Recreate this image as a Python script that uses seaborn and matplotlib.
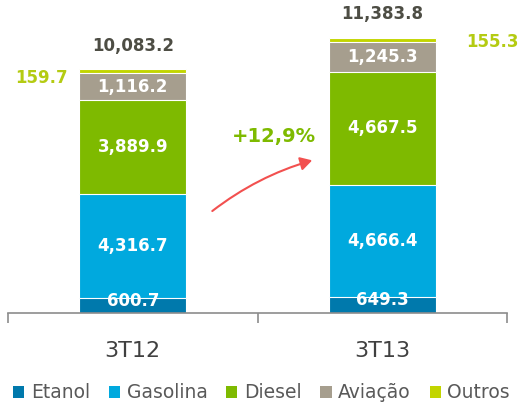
import numpy as np
import seaborn as sns
import matplotlib.pyplot as plt
from matplotlib.patches import FancyArrowPatch, Patch

# ############### Data ###############
periods = ['3T12', '3T13']
series = ['Etanol', 'Gasolina', 'Diesel', 'Aviação', 'Outros']
etanol = [600.7, 649.3]
gasolina = [4316.7, 4666.4]
diesel = [3889.9, 4667.5]
aviacao = [1116.2, 1245.3]
outros = [159.7, 155.3]
totals = ['10,083.2', '11,383.8']
growth = '+12,9%'

colors = ['#0079AC', '#00A9DE', '#7EBA00', '#A69E8E', '#C2D500']

sns.set_theme(style='white')
plt.rcParams['font.family'] = ['DejaVu Sans']

fig = plt.figure(figsize=(5.23, 4.08), dpi=100)
ax = fig.add_axes([8 / 523, 95 / 408, 499 / 523, 313 / 408])

stack = np.array([etanol, gasolina, diesel, aviacao, outros])
cum = stack.cumsum(axis=0)

# draw from the top down so lower layers cover the upper cumulative bars
for i in range(len(series) - 1, -1, -1):
    sns.barplot(x=periods, y=cum[i], color=colors[i], width=0.43, ax=ax,
                edgecolor='white', linewidth=0.8, saturation=1)

ax.set_xlim(-0.5, 1.5)
ax.set_ylim(0, 12955)

# value labels inside the segments
fmt = lambda v: f'{v:,.1f}'
for j in range(len(periods)):
    for i in range(4):
        bottom = cum[i - 1][j] if i > 0 else 0
        mid = bottom + stack[i][j] / 2
        if i == 0:
            mid += 210
        ax.text(j, mid, fmt(stack[i][j]), ha='center', va='center',
                color='white', fontsize=12, fontweight='bold')

# totals
for j in range(len(periods)):
    ax.text(j, cum[-1][j] + 600, totals[j], ha='center', va='bottom',
            color='#4D4D44', fontsize=12, fontweight='bold')

# outros labels beside the bars
ax.text(-0.364, cum[-1][0] - 336, fmt(outros[0]), ha='center', va='center',
        color='#B4CB12', fontsize=12, fontweight='bold')
ax.text(1.44, cum[-1][1] - 170, fmt(outros[1]), ha='center', va='center',
        color='#B4CB12', fontsize=12, fontweight='bold')

# growth arrow
arrow = FancyArrowPatch((0.31, 4150), (0.73, 6350), connectionstyle='arc3,rad=-0.1',
                        arrowstyle='-|>,head_length=7,head_width=4', color='#F2504F',
                        lw=1.5, mutation_scale=1)
ax.add_patch(arrow)
ax.text(0.566, 7285, growth, ha='center', va='center', color='#7EBA00',
        fontsize=14, fontweight='bold')

# axis styling
sns.despine(ax=ax, left=True, top=True, right=True)
ax.spines['bottom'].set_color('#8C8C8C')
ax.spines['bottom'].set_linewidth(1.2)
ax.set_yticks([])
ax.set_xticks([0, 1])
ax.set_xticklabels(periods, fontsize=16, color='#404040')
ax.tick_params(axis='x', which='major', length=0, pad=20)
ax.set_xticks([-0.5, 0.5, 1.5], minor=True)
ax.tick_params(axis='x', which='minor', bottom=True, length=7, width=1.2,
               color='#8C8C8C', direction='out')
ax.grid(False)

handles = [Patch(facecolor=c, edgecolor='none') for c in colors]
fig.legend(handles, series, loc='center', bbox_to_anchor=(0.5, 15 / 408), ncol=5,
           frameon=False, fontsize=13.5, handlelength=0.6, handleheight=0.6,
           handletextpad=0.35, columnspacing=1.0, labelcolor='#595959',
           borderaxespad=0, borderpad=0)

plt.savefig('out.png', dpi=100)
